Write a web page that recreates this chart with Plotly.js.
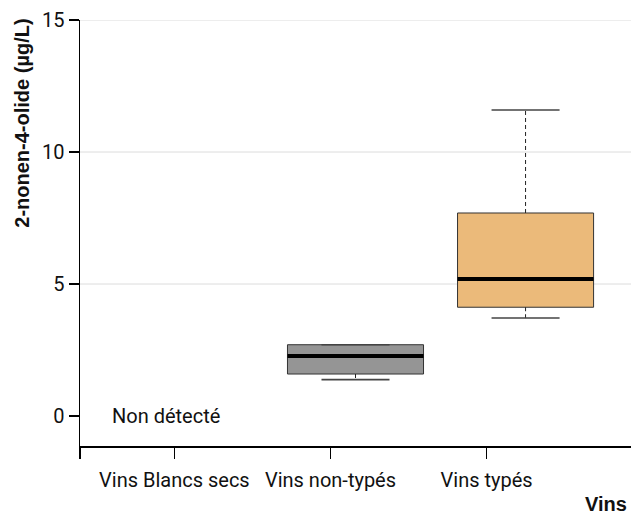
<!DOCTYPE html>
<html>
<head>
<meta charset="utf-8">
<script src="https://cdn.plot.ly/plotly-3.0.1.min.js"></script>
<style>html,body{margin:0;padding:0;background:#fff;}#chart{width:631px;height:516px;}</style>
</head>
<body>
<div id="chart"></div>
<script>
// ---- data ----
const categories = ['Vins Blancs secs', 'Vins non-typés', 'Vins typés'];
const boxPositions = [1, 2, 3];
const q1 = [null, 1.59, 4.12];
const median = [null, 2.27, 5.19];
const q3 = [null, 2.70, 7.69];
const lowerWhisker = [null, 1.38, 3.71];
const upperWhisker = [null, 2.70, 11.59];
const boxColors = [null, '#959595', '#EBBA7A'];
const categoryTickPositions = [0.935, 1.853, 2.771];
const yTicks = [0, 5, 10, 15];
const gridValues = [5, 10, 15];
const noDataLabel = 'Non détecté';

// ---- style ----
const BOX_W = 0.8, CAP_W = 0.4;
const tickFont = {family: 'Roboto, "Liberation Sans", sans-serif', size: 20, color: '#111'};
const boldFont = {family: '"Liberation Sans", Arial, sans-serif', size: 20, color: '#111'};

const traces = [];
for (let i = 0; i < categories.length; i++) {
  if (median[i] === null) continue;
  const p = boxPositions[i];
  traces.push({
    type: 'box', x: [p], q1: [q1[i]], median: [median[i]], q3: [q3[i]],
    lowerfence: [q1[i]], upperfence: [q3[i]],
    width: BOX_W, whiskerwidth: 0, fillcolor: boxColors[i],
    line: {color: '#333', width: 1}, boxpoints: false,
    hoverinfo: 'skip', showlegend: false
  });
  traces.push({
    type: 'scatter', mode: 'lines',
    x: [p, p, null, p, p], y: [q3[i], upperWhisker[i], null, q1[i], lowerWhisker[i]],
    line: {color: '#222', width: 1, dash: '4px,3px'}, hoverinfo: 'skip', showlegend: false
  });
  traces.push({
    type: 'scatter', mode: 'lines',
    x: [p - CAP_W / 2, p + CAP_W / 2, null, p - CAP_W / 2, p + CAP_W / 2],
    y: [upperWhisker[i], upperWhisker[i], null, lowerWhisker[i], lowerWhisker[i]],
    line: {color: '#444', width: 1.6}, hoverinfo: 'skip', showlegend: false
  });
  traces.push({
    type: 'scatter', mode: 'lines',
    x: [p - BOX_W / 2, p + BOX_W / 2], y: [median[i], median[i]],
    line: {color: '#000', width: 4}, hoverinfo: 'skip', showlegend: false
  });
}

const shapes = gridValues.map(v => ({
  type: 'line', xref: 'paper', x0: 0, x1: 1, yref: 'y', y0: v, y1: v,
  line: {color: '#dcdcdc', width: 1}, layer: 'below'
}));

const layout = {
  width: 631, height: 516,
  margin: {l: 80, r: 0, t: 20, b: 70},
  paper_bgcolor: '#fff', plot_bgcolor: '#fff',
  showlegend: false,
  xaxis: {
    range: [0.38, 3.62], showgrid: false, zeroline: false,
    showline: true, linecolor: '#000', linewidth: 1.5,
    tickmode: 'array', tickvals: [0.38].concat(categoryTickPositions), ticktext: [''].concat(categories),
    ticks: 'outside', ticklen: 11, tickwidth: 1.5, tickcolor: '#000', tickangle: 0,
    ticklabelstandoff: 4,
    tickfont: tickFont, fixedrange: true
  },
  yaxis: {
    range: [-1.136, 15], showgrid: false, zeroline: false,
    showline: true, linecolor: '#000', linewidth: 1.5,
    tickmode: 'array', tickvals: yTicks, ticktext: yTicks.map(String),
    ticks: 'outside', ticklen: 10, tickwidth: 1.5, tickcolor: '#000',
    tickfont: tickFont, fixedrange: true
  },
  shapes: shapes,
  annotations: [
    {text: noDataLabel, x: 0.555, y: 0, xref: 'x', yref: 'y', xanchor: 'left', yanchor: 'middle',
     showarrow: false, font: tickFont},
    {text: '<b>2-nonen-4-olide (µg/L)</b>', xref: 'paper', yref: 'paper', x: -0.106, y: 0.758,
     xanchor: 'center', yanchor: 'middle', textangle: -90, showarrow: false, font: boldFont},
    {text: '<b>Vins</b>', xref: 'paper', yref: 'paper', x: 0.996, y: -0.136,
     xanchor: 'right', yanchor: 'middle', showarrow: false, font: boldFont}
  ]
};

Plotly.newPlot('chart', traces, layout, {displayModeBar: false, staticPlot: true});
</script>
</body>
</html>
